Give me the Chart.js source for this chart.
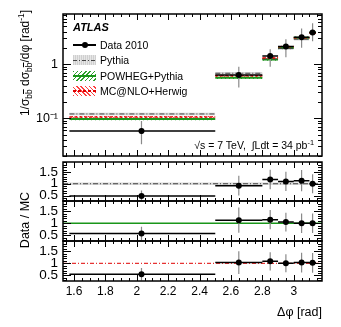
<!DOCTYPE html>
<html>
<head>
<meta charset="utf-8">
<script src="https://cdn.jsdelivr.net/npm/chart.js@4/dist/chart.umd.min.js"></script>
<style>
  html, body { margin: 0; padding: 0; background: #fff; }
  #wrap { position: relative; width: 341px; height: 327px; background: #fff; overflow: hidden;
          font-family: "Liberation Sans", Arial, Helvetica, sans-serif; color: #000; }
  #wrap canvas { position: absolute; left: 0; top: 0; }
  .txt { position: absolute; white-space: nowrap; line-height: 1; }
  .rot { transform: translate(-50%, -50%) rotate(-90deg); }
  .sym { position: absolute; width: 23px; height: 10px; }
  .ov { text-decoration: overline; }
  sub, sup { font-size: 70%; line-height: 0; }
</style>
</head>
<body>
<div id="wrap">
  <canvas id="c0" width="341" height="327"></canvas>
  <canvas id="c1" width="341" height="327"></canvas>
  <canvas id="c2" width="341" height="327"></canvas>
  <canvas id="c3" width="341" height="327"></canvas>

  <!-- y titles -->
  <div class="txt rot" style="left:25px; top:63px; font-size:12px;">1/σ<sub>b<span class="ov">b</span></sub> dσ<sub>b<span class="ov">b</span></sub>/dφ [rad<sup>-1</sup>]</div>
  <div class="txt rot" style="left:25px; top:220px; font-size:12.5px;">Data / MC</div>
  <!-- x title -->
  <div class="txt" style="right:19px; top:306px; font-size:12.5px;">Δφ [rad]</div>

  <!-- ATLAS + legend -->
  <div class="txt" style="left:73px; top:22px; font-size:11px; font-weight:bold; font-style:italic;">ATLAS</div>

  <div class="sym" style="left:73px; top:40px;">
    <div style="position:absolute; left:0; top:4px; width:23px; height:1.5px; background:#000;"></div>
    <div style="position:absolute; left:9px; top:2px; width:6px; height:6px; border-radius:3px; background:#000;"></div>
  </div>
  <div class="txt" style="left:100px; top:40px; font-size:10.5px;">Data 2010</div>

  <div class="sym" style="left:73px; top:55px; background:repeating-linear-gradient(90deg,#cfcfcf 0 1px,#e6e6e6 1px 2px);">
    <div style="position:absolute; left:0; top:4.5px; width:23px; height:1px; background:repeating-linear-gradient(90deg,#444 0 4px,transparent 4px 6px,#444 6px 7px,transparent 7px 9px);"></div>
  </div>
  <div class="txt" style="left:100px; top:55px; font-size:10.5px;">Pythia</div>

  <div class="sym" style="left:73px; top:70.5px; background:repeating-linear-gradient(135deg,#2ca02c 0 1px,#ffffff 1px 3px);">
    <div style="position:absolute; left:0; top:4px; width:23px; height:2px; background:#1a961a;"></div>
  </div>
  <div class="txt" style="left:100px; top:70.5px; font-size:10.5px;">POWHEG+Pythia</div>

  <div class="sym" style="left:73px; top:86px; background:repeating-linear-gradient(45deg,#ff4040 0 1px,#ffffff 1px 3px);">
    <div style="position:absolute; left:0; top:4px; width:23px; height:1.5px; background:repeating-linear-gradient(90deg,#e00000 0 3px,transparent 3px 5px);"></div>
  </div>
  <div class="txt" style="left:100px; top:86px; font-size:10.5px;">MC@NLO+Herwig</div>

  <!-- annotation -->
  <div class="txt" style="right:27px; top:140px; font-size:10.5px;">√s = 7 TeV,&nbsp; ∫Ldt = 34 pb<sup>-1</sup></div>
</div>

<script>
// ---------------- data ----------------
const binLo = [1.5708, 2.5, 2.8, 2.9, 3.0, 3.1];
const binHi = [2.5, 2.8, 2.9, 3.0, 3.1, 3.1416];
const dataX = [2.03, 2.65, 2.85, 2.95, 3.05, 3.12];
const dataY = [0.058, 0.63, 1.42, 2.12, 3.16, 3.85];
const dataStatErr = [0.006, 0.05, 0.12, 0.16, 0.25, 0.35];
const dataTotErrUp = [0.031, 0.27, 0.48, 0.78, 1.4, 1.9];
const dataTotErrDn = [0.025, 0.26, 0.52, 0.77, 1.15, 1.2];

const pythiaY = [0.12, 0.68, 1.25, 1.95, 2.9, 3.85];
const powhegY = [0.097, 0.56, 1.22, 2.0, 3.1, 3.85];
const mcnloY  = [0.105, 0.61, 1.3, 2.1, 3.08, 3.78];

const ratioPythia = [0.48, 0.92, 1.18, 1.1, 1.13, 1.0];
const ratioPowheg = [0.58, 1.13, 1.15, 1.05, 1.0, 1.0];
const ratioMcnlo  = [0.55, 1.03, 1.08, 1.0, 1.03, 1.02];
const ratioPythiaTotErr = [0.23, 0.42, 0.41, 0.41, 0.45, 0.40];
const ratioPowhegTotErr = [0.28, 0.52, 0.40, 0.39, 0.40, 0.40];
const ratioMcnloTotErr  = [0.26, 0.47, 0.38, 0.37, 0.41, 0.41];
const ratioPythiaStatErr = [0.05, 0.07, 0.10, 0.08, 0.09, 0.09];
const ratioPowhegStatErr = [0.06, 0.09, 0.10, 0.08, 0.08, 0.09];
const ratioMcnloStatErr  = [0.06, 0.08, 0.09, 0.07, 0.08, 0.09];

const xTickLabels = [1.6, 1.8, 2.0, 2.2, 2.4, 2.6, 2.8, 3.0];
const mainYTickLabels = [0.1, 1];
const ratioYTickLabels = [0.5, 1, 1.5];

// ---------------- styling / layout ----------------
const W = 341, H = 327;
const X_MIN = 1.53, X_MAX = 3.18;
const BAND_REL = 0.05;
Chart.defaults.font.family = '"Liberation Sans", Arial, Helvetica, sans-serif';
Chart.defaults.color = '#000';

function hatch(color, dir) {
  const c = document.createElement('canvas'); c.width = 4; c.height = 4;
  const g = c.getContext('2d');
  g.fillStyle = 'rgba(255,255,255,0.6)'; g.fillRect(0, 0, 4, 4);
  g.strokeStyle = color; g.lineWidth = 1; g.beginPath();
  if (dir > 0) { g.moveTo(0, 4); g.lineTo(4, 0); g.moveTo(-1, 1); g.lineTo(1, -1); g.moveTo(3, 5); g.lineTo(5, 3); }
  else { g.moveTo(0, 0); g.lineTo(4, 4); g.moveTo(-1, 3); g.lineTo(1, 5); g.moveTo(3, -1); g.lineTo(5, 1); }
  g.stroke();
  return g.createPattern(c, 'repeat');
}
const greenHatch = hatch('#2ca02c', 1);
const redHatch = hatch('#ff3030', -1);
const grayBand = 'rgba(190,190,190,0.6)';

function hSegs(lo, hi, ys) {
  const out = [];
  ys.forEach((y, i) => { out.push({x: lo[i], y}, {x: hi[i], y}, {x: hi[i], y: null}); });
  return out;
}
function vSegs(xs, lows, highs) {
  const out = [];
  xs.forEach((x, i) => { out.push({x, y: lows[i]}, {x, y: highs[i]}, {x, y: null}); });
  return out;
}
function lineDS(data, color, width, dash, order) {
  return {type: 'line', data, borderColor: color, borderWidth: width, borderDash: dash || [],
          pointRadius: 0, fill: false, spanGaps: false, tension: 0, order};
}
function bandDS(lo, hi, ylo, yhi, bg, order) {
  return {type: 'line', data: [{x: lo, y: yhi}, {x: hi, y: yhi}], fill: {value: ylo},
          backgroundColor: bg, borderWidth: 0, borderColor: 'rgba(0,0,0,0)', pointRadius: 0, order};
}
function pointsDS(xs, ys) {
  return {type: 'line', showLine: false, data: xs.map((x, i) => ({x, y: ys[i]})),
          pointRadius: 3, pointBackgroundColor: '#000', pointBorderWidth: 0, order: 0};
}
function dataLayer(vals, statErr, errUp, errDn) {
  return [
    lineDS(hSegs(binLo, binHi, vals), '#000', 1.5, [], 1),
    lineDS(vSegs(dataX, vals.map((v, i) => v - errDn[i]), vals.map((v, i) => v + errUp[i])), '#8a8a8a', 1.2, [], 2),
    lineDS(vSegs(dataX, vals.map((v, i) => v - statErr[i]), vals.map((v, i) => v + statErr[i])), '#000', 2.5, [], 1),
    pointsDS(dataX, vals)
  ];
}

// inward ticks + frame
const frameTicks = {
  id: 'frameTicks',
  afterDraw(chart, args, opts) {
    const {ctx, chartArea: a} = chart;
    const xs = chart.scales.x, ys = chart.scales.y;
    ctx.save();
    ctx.strokeStyle = '#000'; ctx.lineWidth = 1;
    ctx.beginPath();
    for (let k = Math.ceil(X_MIN / 0.05); k * 0.05 <= X_MAX + 1e-9; k++) {
      const v = k * 0.05, major = (k % 4 === 0);
      const len = major ? 6 : 3;
      const px = Math.round(xs.getPixelForValue(v)) + 0.5;
      ctx.moveTo(px, a.bottom); ctx.lineTo(px, a.bottom - len);
      ctx.moveTo(px, a.top); ctx.lineTo(px, a.top + len);
    }
    opts.yMajor.forEach(v => {
      const py = Math.round(ys.getPixelForValue(v)) + 0.5;
      ctx.moveTo(a.left, py); ctx.lineTo(a.left + 8, py);
      ctx.moveTo(a.right, py); ctx.lineTo(a.right - 8, py);
    });
    opts.yMinor.forEach(v => {
      const py = Math.round(ys.getPixelForValue(v)) + 0.5;
      ctx.moveTo(a.left, py); ctx.lineTo(a.left + 4, py);
      ctx.moveTo(a.right, py); ctx.lineTo(a.right - 4, py);
    });
    ctx.stroke();
    ctx.lineWidth = 1.5;
    ctx.strokeRect(a.left, a.top, a.right - a.left, a.bottom - a.top);
    ctx.restore();
  }
};

function makeChart(id, top, bottom, yCfg, datasets, showX, yMajor, yMinor) {
  const xH = 20;
  return new Chart(document.getElementById(id), {
    type: 'line',
    data: {datasets},
    options: {
      responsive: false, animation: false, devicePixelRatio: 1, events: [],
      layout: {padding: {left: 0, right: W - 322, top: top, bottom: H - bottom - (showX ? xH : 0)}},
      plugins: {legend: {display: false}, tooltip: {enabled: false}, frameTicks: {yMajor, yMinor}},
      scales: {
        x: {
          type: 'linear', min: X_MIN, max: X_MAX, display: showX,
          afterBuildTicks(s) { s.ticks = xTickLabels.map(v => ({value: v})); },
          afterFit(s) { s.height = showX ? xH : 0; },
          ticks: {autoSkip: false, maxRotation: 0, padding: 3, font: {size: 12}, color: '#000',
                  callback: v => String(+Number(v).toFixed(1))},
          grid: {display: false, drawTicks: false}, border: {display: false}
        },
        y: Object.assign({
          position: 'left',
          afterFit(s) { s.width = 63; },
          grid: {display: false, drawTicks: false}, border: {display: false}
        }, yCfg)
      }
    },
    plugins: [frameTicks]
  });
}

// ---------------- main panel ----------------
const mainDS = [];
[[pythiaY, grayBand], [powhegY, greenHatch], [mcnloY, redHatch]].forEach(([vals, bg]) => {
  vals.forEach((v, i) => mainDS.push(bandDS(binLo[i], binHi[i], v * (1 - BAND_REL), v * (1 + BAND_REL), bg, 6)));
});
mainDS.push(lineDS(hSegs(binLo, binHi, powhegY), '#1a961a', 2, [], 4));
mainDS.push(lineDS(hSegs(binLo, binHi, mcnloY), '#e00000', 1.5, [3, 2], 3));
mainDS.push(lineDS(hSegs(binLo, binHi, pythiaY), '#444', 1, [5, 2, 1, 2], 3));
mainDS.push(...dataLayer(dataY, dataStatErr, dataTotErrUp, dataTotErrDn));

const logMinor = [];
[0.01, 0.1, 1].forEach(d => { for (let m = 2; m <= 9; m++) { const v = d * m; if (v >= 0.02 && v <= 8.5) logMinor.push(v); } });

makeChart('c0', 14, 156, {
  type: 'logarithmic', min: 0.02, max: 8.5,
  afterBuildTicks(s) { s.ticks = mainYTickLabels.map(v => ({value: v})); },
  ticks: {autoSkip: false, padding: 5, font: {size: 12.5}, color: '#000',
          callback: v => (v === 1 ? '1' : '10⁻¹')}
}, mainDS, false, mainYTickLabels, logMinor);

// ---------------- ratio panels ----------------
const ratioMinor = [];
for (let k = 3; k <= 19; k++) { if (k % 5 !== 0) ratioMinor.push(k / 10); }
function ratioY() {
  return {
    type: 'linear', min: 0.27, max: 1.92,
    afterBuildTicks(s) { s.ticks = ratioYTickLabels.map(v => ({value: v})); },
    ticks: {autoSkip: false, padding: 5, font: {size: 13.5}, color: '#000', callback: v => String(v)}
  };
}

const r1 = [
  bandDS(X_MIN, X_MAX, 1 - BAND_REL, 1 + BAND_REL, grayBand, 6),
  lineDS([{x: X_MIN, y: 1}, {x: X_MAX, y: 1}], '#444', 1, [5, 2, 1, 2], 3),
  ...dataLayer(ratioPythia, ratioPythiaStatErr, ratioPythiaTotErr, ratioPythiaTotErr)
];
const r2 = [
  lineDS([{x: X_MIN, y: 1}, {x: X_MAX, y: 1}], '#1a961a', 1.5, [], 3),
  ...dataLayer(ratioPowheg, ratioPowhegStatErr, ratioPowhegTotErr, ratioPowhegTotErr)
];
const r3 = [
  lineDS([{x: X_MIN, y: 1}, {x: X_MAX, y: 1}], '#e00000', 1, [4, 2, 1, 2], 3),
  ...dataLayer(ratioMcnlo, ratioMcnloStatErr, ratioMcnloTotErr, ratioMcnloTotErr)
];
makeChart('c1', 162, 201, ratioY(), r1, false, ratioYTickLabels, ratioMinor);
makeChart('c2', 201, 241, ratioY(), r2, false, ratioYTickLabels, ratioMinor);
makeChart('c3', 241, 281, ratioY(), r3, true, ratioYTickLabels, ratioMinor);
</script>
</body>
</html>
